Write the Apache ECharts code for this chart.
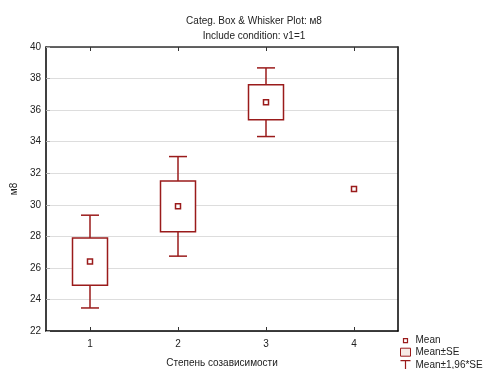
<!DOCTYPE html>
<html>
<head>
<meta charset="utf-8">
<script src="https://cdn.jsdelivr.net/npm/echarts@6/dist/echarts.min.js"></script>
<style>
  html, body { margin: 0; padding: 0; background: #fff; }
  #chart { width: 484px; height: 369px; }
</style>
</head>
<body>
<div id="chart"></div>
<script>
// Group labels on the x axis
const categories = ['1', '2', '3', '4'];
// Group means of м8
const means = [26.4, 29.9, 36.5, 31.0];
// Standard errors of the mean (group 4 has a single value, no SE)
const stdErrors = [1.5, 1.61, 1.11, null];
// Y axis range and step
const yMin = 22, yMax = 40, yStep = 2;

const RED = '#9a1b1b';
const FONT = '"Liberation Sans", Arial, sans-serif';

const meanData = categories.map((c, i) => [i, means[i]]);
const spreadData = categories
  .map((c, i) => [i, means[i], stdErrors[i]])
  .filter(d => d[2] != null);

function renderWhisker(params, api) {
  const i = api.value(0), m = api.value(1), se = api.value(2);
  const top = api.coord([i, m + 1.96 * se]);
  const bot = api.coord([i, m - 1.96 * se]);
  const half = 9;
  const style = { stroke: RED, lineWidth: 1.5, fill: null };
  return {
    type: 'group',
    children: [
      { type: 'line', shape: { x1: top[0], y1: top[1], x2: bot[0], y2: bot[1] }, style },
      { type: 'line', shape: { x1: top[0] - half, y1: top[1], x2: top[0] + half, y2: top[1] }, style },
      { type: 'line', shape: { x1: bot[0] - half, y1: bot[1], x2: bot[0] + half, y2: bot[1] }, style }
    ]
  };
}

function renderBox(params, api) {
  const i = api.value(0), m = api.value(1), se = api.value(2);
  const top = api.coord([i, m + se]);
  const bot = api.coord([i, m - se]);
  const half = 17.5;
  return {
    type: 'rect',
    shape: { x: top[0] - half, y: top[1], width: half * 2, height: bot[1] - top[1] },
    style: { fill: '#fff', stroke: RED, lineWidth: 1.5 }
  };
}

const chart = echarts.init(document.getElementById('chart'), null, { renderer: 'canvas' });

chart.setOption({
  animation: false,
  backgroundColor: '#fff',
  textStyle: { fontFamily: FONT },
  title: [
    {
      text: 'Categ. Box & Whisker Plot: м8',
      left: 249, top: 11, textAlign: 'center',
      textStyle: { fontSize: 10, fontWeight: 'normal', color: '#222', fontFamily: FONT }
    },
    {
      text: 'Include condition: v1=1',
      left: 249, top: 26, textAlign: 'center',
      textStyle: { fontSize: 10, fontWeight: 'normal', color: '#222', fontFamily: FONT }
    }
  ],
  grid: { left: 46, top: 47, right: 86, bottom: 38, containLabel: false, outerBoundsMode: 'none' },
  legend: {
    orient: 'vertical',
    left: 398, top: 335, height: 45,
    itemWidth: 10, itemHeight: 10, itemGap: 1,
    padding: 0,
    selectedMode: false,
    textStyle: { fontSize: 10, color: '#222', fontFamily: FONT, lineHeight: 10 },
    data: [
      {
        name: 'Mean',
        icon: 'path://M0,0L0,0M10,10L10,10M3,3h4v4h-4z',
        itemStyle: { color: '#fff', borderColor: RED, borderWidth: 1.2 }
      },
      {
        name: 'Mean±SE',
        icon: 'path://M0,1h10v8h-10z',
        itemStyle: { color: '#f7ebe6', borderColor: RED, borderWidth: 1 }
      },
      {
        name: 'Mean±1,96*SE',
        icon: 'path://M0,0h10M5,0v10M0,10h10',
        itemStyle: { color: 'none', borderColor: RED, borderWidth: 1.2 }
      }
    ]
  },
  xAxis: [
    {
      type: 'category',
      data: categories,
      boundaryGap: true,
      name: 'Степень созависимости',
      nameLocation: 'middle',
      nameGap: 27,
      nameTextStyle: { fontSize: 10, color: '#222', fontFamily: FONT },
      axisLine: { show: true, lineStyle: { color: '#000', width: 1.5 } },
      axisTick: { show: true, inside: true, alignWithLabel: true, length: 4, lineStyle: { color: '#333' } },
      axisLabel: { fontSize: 10, color: '#222', margin: 8, fontFamily: FONT },
      splitLine: { show: false }
    },
    {
      type: 'category',
      data: categories,
      position: 'top',
      boundaryGap: true,
      axisLine: { show: true, lineStyle: { color: '#333', width: 1.5 } },
      axisTick: { show: true, inside: true, alignWithLabel: true, length: 4, lineStyle: { color: '#333' } },
      axisLabel: { show: false },
      splitLine: { show: false }
    }
  ],
  yAxis: [
    {
      type: 'value',
      min: yMin, max: yMax, interval: yStep,
      name: 'м8',
      nameLocation: 'middle',
      nameGap: 19,
      nameRotate: 90,
      nameTextStyle: { fontSize: 10, color: '#222', fontFamily: FONT },
      axisLine: { show: true, lineStyle: { color: '#000', width: 1.5 } },
      axisTick: { show: true, inside: true, length: 4, lineStyle: { color: '#aaa' } },
      axisLabel: { fontSize: 10, color: '#222', margin: 5, fontFamily: FONT },
      splitLine: { show: true, lineStyle: { color: '#dddddd', width: 1 } }
    },
    {
      type: 'value',
      min: yMin, max: yMax, interval: yStep,
      position: 'right',
      axisLine: { show: true, lineStyle: { color: '#000', width: 1.5 } },
      axisTick: { show: false },
      axisLabel: { show: false },
      splitLine: { show: false }
    }
  ],
  series: [
    {
      name: 'Mean±1,96*SE',
      type: 'custom',
      renderItem: renderWhisker,
      data: spreadData,
      encode: { x: 0, y: [1] },
      z: 2
    },
    {
      name: 'Mean±SE',
      type: 'custom',
      renderItem: renderBox,
      data: spreadData,
      encode: { x: 0, y: [1] },
      z: 3
    },
    {
      name: 'Mean',
      type: 'scatter',
      data: meanData,
      symbol: 'rect',
      symbolSize: 5,
      itemStyle: { color: '#fff', borderColor: RED, borderWidth: 1.5, opacity: 1 },
      z: 4
    }
  ]
});
</script>
</body>
</html>
